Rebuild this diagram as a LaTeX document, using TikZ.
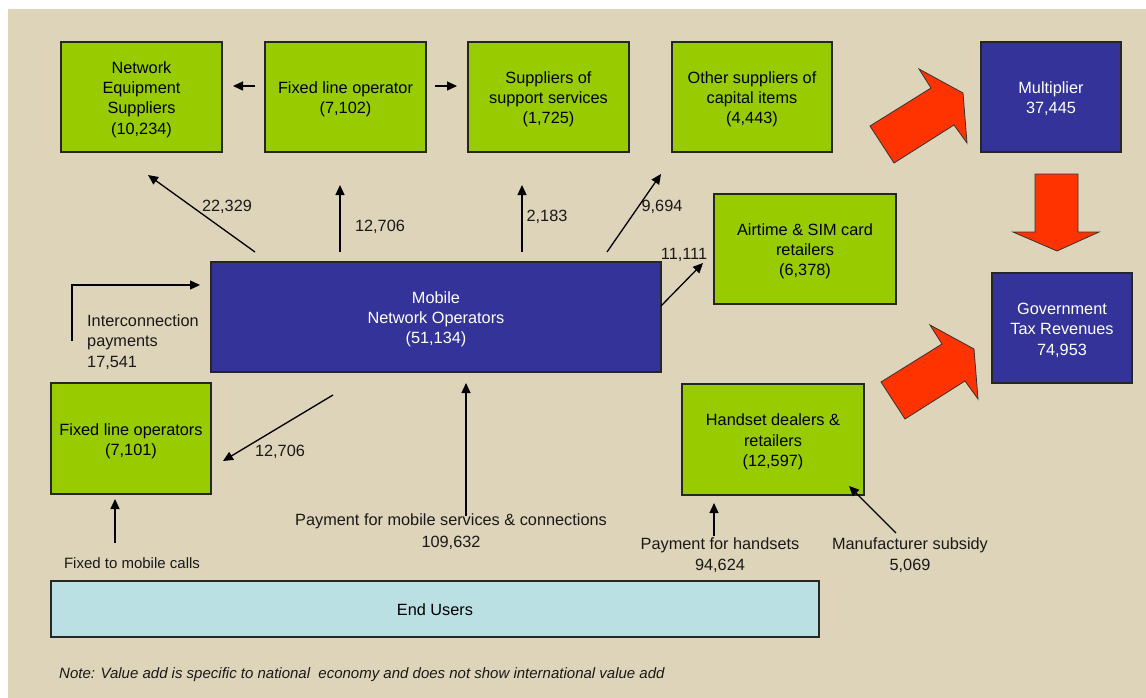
\documentclass[tikz,border=0pt]{standalone}
\usepackage{fontspec}
\setmainfont{Liberation Sans}
\usetikzlibrary{arrows.meta}
\definecolor{bgtan}{RGB}{221,212,185}
\definecolor{vgreen}{RGB}{153,204,0}
\definecolor{vblue}{RGB}{51,51,153}
\definecolor{vlight}{RGB}{186,224,227}
\definecolor{vred}{RGB}{255,51,0}
\newcommand{\dgmfont}{\fontsize{16.3}{20.3}\selectfont}
\newcommand{\smallfont}{\fontsize{15}{18}\selectfont}
% line-box struts so that box texts are centred on their lines, not on their glyphs
\newcommand{\boxstrut}{\rule[-3pt]{0pt}{19.7pt}}
\newcommand{\bt}[1]{\boxstrut#1\boxstrut}
\begin{document}
\begin{tikzpicture}[x=1pt,y=-1pt,
  box/.style={draw=black!85, line width=1.2pt, inner sep=0pt, align=center, font=\dgmfont},
  gbox/.style={box, fill=vgreen, text=black},
  bbox/.style={box, fill=vblue, text=white},
  ubox/.style={box, fill=vlight, text=black},
  flow/.style={line width=1.3pt, -{Triangle[length=10pt,width=9pt]}},
  lbl/.style={inner sep=0pt, align=center, font=\dgmfont, text=black!90},
  bigarrow/.style={fill=vred, draw=black!80, line width=0.8pt, line join=miter}
]
% page and panel
\useasboundingbox (0,0) rectangle (1146,698);
\fill[white] (0,0) rectangle (1146,698);
\fill[bgtan] (8,9) rectangle (1146,698);

% top row of suppliers
\node[gbox, minimum width=161pt, minimum height=110pt] (neq) at (141.5,97) {\bt{Network\\Equipment\\Suppliers\\(10,234)}};
\node[gbox, minimum width=161pt, minimum height=110pt] (flo) at (345.5,97) {\bt{Fixed line operator\\(7,102)}};
\node[gbox, minimum width=161pt, minimum height=110pt] (sss) at (548.5,97) {\bt{Suppliers of\\support services\\(1,725)}};
\node[gbox, minimum width=160pt, minimum height=110pt] (osc) at (752,97) {\bt{Other suppliers of\\capital items\\(4,443)}};
\node[bbox, minimum width=140pt, minimum height=110pt] (mult) at (1051,97) {\bt{Multiplier\\37,445}};

% middle row
\node[gbox, minimum width=182pt, minimum height=110pt] (air) at (805,249) {\bt{Airtime \& SIM card\\retailers\\(6,378)}};
\node[bbox, minimum width=140pt, minimum height=110pt] (gov) at (1062,328) {\bt{Government\\Tax Revenues\\74,953}};
\node[bbox, minimum width=450pt, minimum height=110pt] (mno) at (436,317) {\bt{Mobile\\Network Operators\\(51,134)}};

% lower row
\node[gbox, minimum width=160pt, minimum height=111pt] (flos) at (131,438.5) {\bt{Fixed line operators\\(7,101)}};
\node[gbox, minimum width=182pt, minimum height=111pt] (hds) at (773,439.5) {\bt{Handset dealers \&\\retailers\\(12,597)}};
\node[ubox, minimum width=768pt, minimum height=56pt] (eu) at (435,609) {\bt{End Users}};

% flow labels
\node[lbl] (l22329) at (227,207) {22,329};
\node[lbl] (l12706a) at (380,227) {12,706};
\node[lbl] (l2183) at (547,217) {2,183};
\node[lbl] (l9694) at (662,207) {9,694};
\node[lbl] (l11111) at (684,255) {11,111};
\node[lbl, align=left, anchor=west] (lint) at (87,342) {Interconnection\\payments\\17,541};
\node[lbl] (l12706b) at (280,452) {12,706};
\node[lbl, font=\fontsize{16.3}{22}\selectfont] (lpms) at (451,532) {Payment for mobile services \& connections\\109,632};
\node[lbl] (lpfh) at (720,555) {Payment for handsets\\94,624};
\node[lbl] (lms) at (910,555) {Manufacturer subsidy\\5,069};
\node[lbl, font=\smallfont] (lfmc) at (132,563) {Fixed to mobile calls};
\node[lbl, font=\smallfont\itshape, anchor=west] (note) at (59,675) {Note: Value add is specific to national\ \ economy and does not show international value add};

% free ends of the flows
\coordinate (a1s) at (255,252);  \coordinate (a1e) at (148,175);
\coordinate (a2s) at (340,252);  \coordinate (a2e) at (340,185);
\coordinate (a3s) at (522,252);  \coordinate (a3e) at (522,185);
\coordinate (a4s) at (607,252);  \coordinate (a4e) at (661,174);
\coordinate (a5s) at (661,306);  \coordinate (a5e) at (703,263);
\coordinate (a6s) at (72,341);   \coordinate (a6e) at (200,285);
\coordinate (a7s) at (333,395);  \coordinate (a7e) at (223,461);
\coordinate (a8s) at (466,516);  \coordinate (a8e) at (466,383);
\coordinate (a9s) at (115,543);  \coordinate (a9e) at (115,499);
\coordinate (a10s) at (714,536); \coordinate (a10e) at (714,503);
\coordinate (a11s) at (896,533); \coordinate (a11e) at (849,486);
\coordinate (t1s) at (255,86);   \coordinate (t1e) at (233,86);
\coordinate (t2s) at (435,86);   \coordinate (t2e) at (457,86);

% money flows
\draw[flow] (a1s) -- (a1e);
\draw[flow] (a2s) -- (a2e);
\draw[flow] (a3s) -- (a3e);
\draw[flow] (a4s) -- (a4e);
\draw[flow] (a5s) -- (a5e);
\draw[flow] (a6s) |- (a6e);
\draw[flow] (a7s) -- (a7e);
\draw[flow] (a8s) -- (a8e);
\draw[flow] (a9s) -- (a9e);
\draw[flow] (a10s) -- (a10e);
\draw[flow] (a11s) -- (a11e);
\draw[flow] (t1s) -- (t1e);
\draw[flow] (t2s) -- (t2e);

% block arrows into the multiplier and tax revenues
\draw[bigarrow] (870,126) -- (931,88) -- (919,69) -- (963,93) -- (967,143) -- (954,125) -- (894,163) -- cycle;
\draw[bigarrow] (1035,174) -- (1078,174) -- (1078,232) -- (1099,232) -- (1057,251) -- (1013,232) -- (1035,232) -- cycle;
\begin{scope}[shift={(11,256)}]
\draw[bigarrow] (870,126) -- (931,88) -- (919,69) -- (963,93) -- (967,143) -- (954,125) -- (894,163) -- cycle;
\end{scope}
\end{tikzpicture}
\end{document}
